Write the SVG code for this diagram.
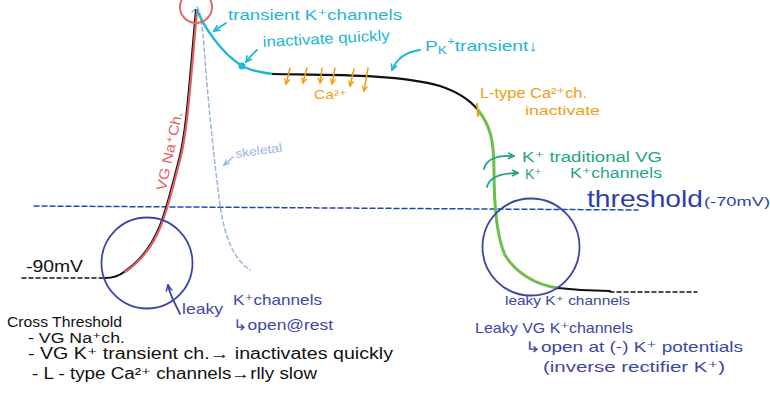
<svg xmlns="http://www.w3.org/2000/svg" width="770" height="397" viewBox="0 0 770 397">
<defs>
<style>
text{font-family:"Liberation Sans","DejaVu Sans",sans-serif;}
.cy{fill:#1db6d4;font-size:15px;}
.or{fill:#f39c12;font-size:14px;}
.gr{fill:#1fa588;font-size:14px;}
.bl{fill:#3c46a8;font-size:15px;}
.bk{fill:#111;font-size:15px;}
.rd{fill:#e25e5e;font-size:14px;}
.lb{fill:#9ab6da;font-size:12px;}
.line{fill:none;stroke-linecap:round;stroke-linejoin:round;}
</style>
<marker id="ac" viewBox="0 0 8 8" refX="7" refY="4" markerWidth="8" markerHeight="8" markerUnits="userSpaceOnUse" orient="auto"><path d="M1,1 L7,4 L1,7" fill="none" stroke="#1db6d4" stroke-width="1.6"/></marker>
<marker id="ao" viewBox="0 0 8 8" refX="7" refY="4" markerWidth="7" markerHeight="7" markerUnits="userSpaceOnUse" orient="auto"><path d="M1,1 L7,4 L1,7" fill="none" stroke="#f39c12" stroke-width="1.5"/></marker>
<marker id="ag" viewBox="0 0 8 8" refX="7" refY="4" markerWidth="8" markerHeight="8" markerUnits="userSpaceOnUse" orient="auto"><path d="M1,1 L7,4 L1,7" fill="none" stroke="#1fa588" stroke-width="1.6"/></marker>
<marker id="ab" viewBox="0 0 8 8" refX="7" refY="4" markerWidth="8" markerHeight="8" markerUnits="userSpaceOnUse" orient="auto"><path d="M1,1 L7,4 L1,7" fill="none" stroke="#3c46a8" stroke-width="1.6"/></marker>
<marker id="al" viewBox="0 0 8 8" refX="7" refY="4" markerWidth="7" markerHeight="7" markerUnits="userSpaceOnUse" orient="auto"><path d="M1,1 L7,4 L1,7" fill="none" stroke="#9ab6da" stroke-width="1.5"/></marker>
</defs>
<rect width="770" height="397" fill="#fff"/>

<!-- threshold line -->
<g id="threshold">
<path class="line" d="M34,206 L638,210" stroke="#2447b0" stroke-width="1.5" stroke-dasharray="5 3"/>
<text x="587" y="207" style="fill:#2f3fa8;font-size:24px" textLength="116" lengthAdjust="spacingAndGlyphs">threshold</text>
<text x="704" y="206" style="fill:#2f3fa8;font-size:13px" textLength="66" lengthAdjust="spacingAndGlyphs">(-70mV)</text>
</g>

<!-- skeletal AP -->
<g id="skeletal">
<path class="line" d="M192,12 L197,7 C201,12 203,30 205,60 C208,100 214,160 220,205 C225,240 235,260 250,270" stroke="#9ab6da" stroke-width="1.5" stroke-dasharray="4 3"/>
<path class="line" d="M233,157 L224,165" stroke="#9ab6da" stroke-width="1.5" marker-end="url(#al)"/>
<text class="lb" x="236" y="158" transform="rotate(-8 236 158)" textLength="47" lengthAdjust="spacingAndGlyphs">skeletal</text>
</g>

<!-- cardiac AP curve -->
<g id="action-potential">
<path class="line" d="M22,278 L105,278" stroke="#111" stroke-width="1.5" stroke-dasharray="4 3"/>
<path class="line" d="M105,278 C113,278 119,276 124,272 C139,262 151,247 159,228 S172,186 179,160 S189,90 196,10" stroke="#111" stroke-width="2.2"/>
<path class="line" d="M125,272 C140,262 152,247 160,228 S173,186 180,160 S190,90 197,10" stroke="#e25e5e" stroke-width="2.2"/>
<path class="line" d="M197,10 C203,25 220,52 242,66 C252,71 262,73 273,74" stroke="#1db6d4" stroke-width="2.4"/>
<circle cx="242" cy="66" r="3.5" fill="#1db6d4"/>
<path class="line" d="M273,74 C330,75 400,74 440,86 C458,92 470,100 478,110" stroke="#111" stroke-width="2.2"/>
<path class="line" d="M478,110 C490,125 494,140 494,170 C494,200 496,235 505,255 C515,272 535,285 558,288" stroke="#6cbf48" stroke-width="3"/>
<path class="line" d="M558,288 C575,290 595,291 610,291" stroke="#111" stroke-width="2.2"/>
<path class="line" d="M610,292 L697,292" stroke="#111" stroke-width="1.5" stroke-dasharray="4 3"/>
<path class="line" d="M477,104 L478,116" stroke="#f39c12" stroke-width="2"/>
<text x="26" y="272" class="bk" style="font-size:16px" textLength="57" lengthAdjust="spacingAndGlyphs">-90mV</text>
</g>

<!-- peak circle -->
<g id="peak">
<circle cx="196" cy="7" r="16" fill="none" stroke="#e06a6a" stroke-width="2"/>
</g>

<!-- VG Na label -->
<g id="na-label">
<text class="rd" x="174" y="152" text-anchor="middle" transform="rotate(-78 174 152)" textLength="80" lengthAdjust="spacingAndGlyphs">VG Na⁺Ch.</text>
</g>

<!-- transient K -->
<g id="transient-k">
<text class="cy" x="228" y="20" textLength="174" lengthAdjust="spacingAndGlyphs">transient K⁺channels</text>
<text class="cy" x="263" y="47" transform="rotate(-3 263 47)" textLength="127" lengthAdjust="spacingAndGlyphs">inactivate quickly</text>
<text class="cy" x="425" y="51" textLength="113" lengthAdjust="spacingAndGlyphs">P<tspan style="font-size:11px" dy="3">K</tspan><tspan dy="-9" style="font-size:10px">+</tspan><tspan dy="6">transient↓</tspan></text>
</g>

<!-- Ca2+ influx -->
<g id="calcium">
<text class="or" x="314" y="99" style="font-size:13px" textLength="33" lengthAdjust="spacingAndGlyphs">Ca²⁺</text>
<text class="or" x="480" y="98" style="font-size:14px" textLength="107" lengthAdjust="spacingAndGlyphs">L-type Ca²⁺ch.</text>
<text class="or" x="525" y="115" style="font-size:13px" textLength="75" lengthAdjust="spacingAndGlyphs">inactivate</text>
</g>

<!-- K repolarisation -->
<g id="k-traditional">
<text class="gr" x="522" y="162" textLength="140" lengthAdjust="spacingAndGlyphs">K⁺ traditional VG</text>
<text class="gr" x="525" y="179">K⁺</text>
<text class="gr" x="570" y="178" textLength="92" lengthAdjust="spacingAndGlyphs">K⁺channels</text>
</g>

<!-- left circle -->
<g id="leaky-left">
<circle cx="147" cy="263" r="45.5" fill="none" stroke="#3c46a8" stroke-width="1.8"/>
<text class="bl" x="182" y="314" textLength="41" lengthAdjust="spacingAndGlyphs">leaky</text>
<text class="bl" x="233" y="305" textLength="89" lengthAdjust="spacingAndGlyphs">K⁺channels</text>
<text class="bl" x="233" y="330" textLength="100" lengthAdjust="spacingAndGlyphs">↳open@rest</text>
</g>

<!-- right circle -->
<g id="leaky-right">
<circle cx="531" cy="247" r="48.5" fill="none" stroke="#3c46a8" stroke-width="1.8"/>
<text class="bl" x="505" y="305" style="font-size:13px" textLength="125" lengthAdjust="spacingAndGlyphs">leaky K⁺ channels</text>
<text class="bl" x="475" y="333" textLength="158" lengthAdjust="spacingAndGlyphs">Leaky VG K⁺channels</text>
<text class="bl" x="525" y="352" textLength="218" lengthAdjust="spacingAndGlyphs">↳open at (-) K⁺ potentials</text>
<text class="bl" x="543" y="372" textLength="182" lengthAdjust="spacingAndGlyphs">(inverse rectifier K⁺)</text>
</g>

<!-- notes -->
<g id="notes">
<text class="bk" x="7" y="327" style="font-size:14px" textLength="115" lengthAdjust="spacingAndGlyphs">Cross Threshold</text>
<text class="bk" x="28" y="343" style="font-size:14px" textLength="97" lengthAdjust="spacingAndGlyphs">- VG Na⁺ch.</text>
<text class="bk" x="28" y="359" style="font-size:16px" textLength="365" lengthAdjust="spacingAndGlyphs">- VG K⁺ transient ch.→ inactivates quickly</text>
<text class="bk" x="32" y="379" style="font-size:16px" textLength="285" lengthAdjust="spacingAndGlyphs">- L - type Ca²⁺ channels→rlly slow</text>
</g>

<!-- connectors -->
<g id="connectors">
<path class="line" d="M226,23 L214,31" stroke="#1db6d4" stroke-width="1.8" marker-end="url(#ac)"/>
<path class="line" d="M257,50 C252,54 249,58 246,62" stroke="#1db6d4" stroke-width="1.8" marker-end="url(#ac)"/>
<path class="line" d="M420,50 C405,52 396,60 392,70" stroke="#1db6d4" stroke-width="1.8" marker-end="url(#ac)"/>
<path class="line" d="M290,68 L286,84" stroke="#f39c12" stroke-width="1.5" marker-end="url(#ao)"/>
<path class="line" d="M307,68 L303,83" stroke="#f39c12" stroke-width="1.5" marker-end="url(#ao)"/>
<path class="line" d="M322,68 L320,83" stroke="#f39c12" stroke-width="1.5" marker-end="url(#ao)"/>
<path class="line" d="M335,68 L332,84" stroke="#f39c12" stroke-width="1.5" marker-end="url(#ao)"/>
<path class="line" d="M354,69 L350,86" stroke="#f39c12" stroke-width="1.5" marker-end="url(#ao)"/>
<path class="line" d="M368,68 L364,91" stroke="#f39c12" stroke-width="1.5" marker-end="url(#ao)"/>
<path class="line" d="M484,169 C486,160 496,155 514,156" stroke="#1fa588" stroke-width="1.8" marker-end="url(#ag)"/>
<path class="line" d="M487,187 C489,178 498,173 518,173" stroke="#1fa588" stroke-width="1.8" marker-end="url(#ag)"/>
<path class="line" d="M180,314 C176,305 170,296 168,285" stroke="#3c46a8" stroke-width="1.8" marker-end="url(#ab)"/>
</g>
</svg>
